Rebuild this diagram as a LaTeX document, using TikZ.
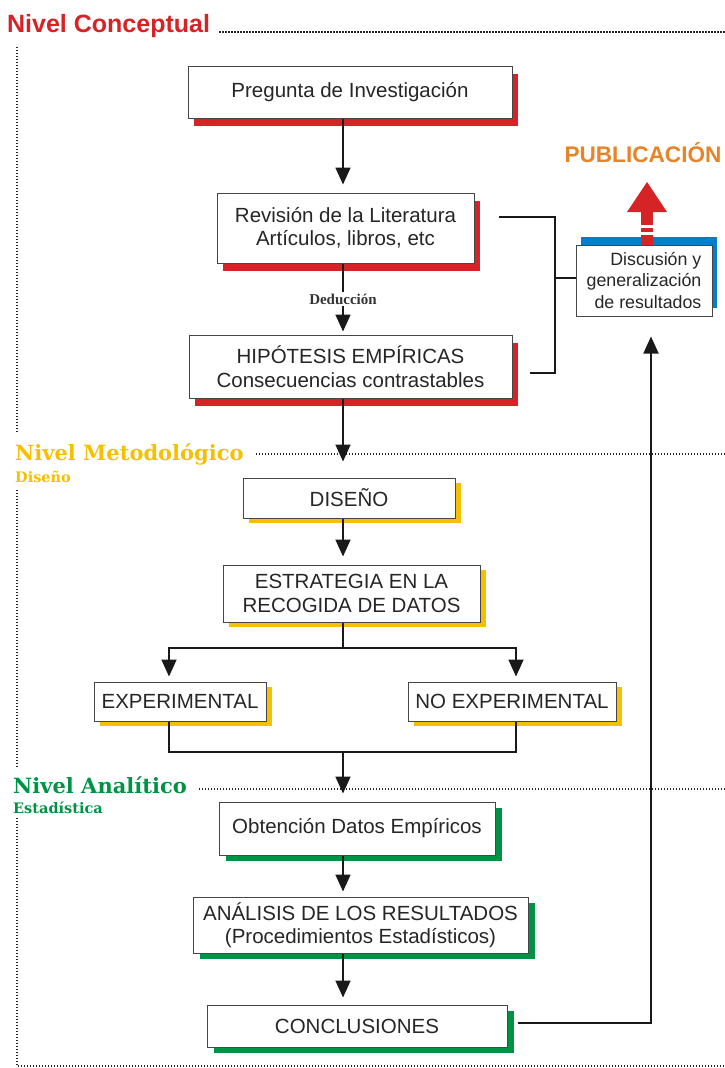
\documentclass[tikz,border=0pt]{standalone}
\usepackage{fontspec}
\setmainfont{Liberation Sans}
\newfontfamily\slabfont{DejaVu Serif}
\newfontfamily\romfont{Liberation Serif}
\usetikzlibrary{arrows.meta,shadows}
\definecolor{concred}{RGB}{214,35,38}
\definecolor{metoyel}{RGB}{244,192,0}
\definecolor{anagreen}{RGB}{0,146,69}
\definecolor{discblue}{RGB}{0,128,200}
\definecolor{puborange}{RGB}{232,132,40}
\definecolor{edgegray}{RGB}{70,70,70}
\begin{document}
\begin{tikzpicture}[x=1pt,y=-1pt,box/.style={draw=edgegray,line width=1pt,fill=white,text=black!85,align=center,inner sep=0pt,font=\fontsize{20.5}{23.5}\selectfont},boxR/.style={box,drop shadow={shadow xshift=6pt,shadow yshift=-8pt,fill=concred,opacity=1}},boxY/.style={box,drop shadow={shadow xshift=6pt,shadow yshift=-5pt,fill=metoyel,opacity=1}},boxG/.style={box,drop shadow={shadow xshift=7pt,shadow yshift=-6pt,fill=anagreen,opacity=1}},boxB/.style={box,drop shadow={shadow xshift=5pt,shadow yshift=8pt,fill=discblue,opacity=1}},flow/.style={line width=1.8pt,black!90},flowA/.style={flow,-{Triangle[length=17pt,width=15pt]},shorten >=8pt},dotline/.style={line width=1.8pt,dash pattern=on 1.3pt off 1.7pt,black!85},lvl/.style={anchor=base west,inner sep=0pt}]
\useasboundingbox (0,0) rectangle (725,1068);
\coordinate (col) at (343,0);
\coordinate (R) at (725,0);

\node[lvl,text=concred,font=\bfseries\fontsize{25}{25}\selectfont] (lvlC) at (7,32) {Nivel Conceptual};
\node[lvl,text=metoyel,font=\slabfont\bfseries\fontsize{21}{21}\selectfont] (lvlM) at (15,460) {Nivel Metodológico};
\node[lvl,text=metoyel,font=\slabfont\bfseries\fontsize{14.5}{14.5}\selectfont] (subM) at (15,482) {Diseño};
\node[lvl,text=anagreen,font=\slabfont\bfseries\fontsize{21}{21}\selectfont] (lvlA) at (13,793) {Nivel Analítico};
\node[lvl,text=anagreen,font=\slabfont\bfseries\fontsize{14.5}{14.5}\selectfont] (subA) at (13,813) {Estadística};

\draw[dotline] ([xshift=9pt]lvlC.base east) -- (lvlC.base east -| R);
\draw[dotline] ([xshift=12pt,yshift=6pt]lvlM.base east) -- ([yshift=6pt]lvlM.base east -| R);
\draw[dotline] ([xshift=12pt,yshift=4pt]lvlA.base east) -- ([yshift=4pt]lvlA.base east -| R);
\draw[dotline] (17,47) -- (17,432);
\draw[dotline] (17,490) -- (17,768);
\draw[dotline] (17,818) -- (17,1066) -- (725,1066);

\node[boxR,minimum width=324pt,minimum height=52pt] (preg) at (350,92) {Pregunta de Investigación};
\node[boxR,minimum width=257pt,minimum height=70pt] (rev) at (345.5,228) {Revisión de la Literatura\\Artículos, libros, etc};
\node[boxR,minimum width=323pt,minimum height=63pt] (hip) at (350.5,366.5) {HIPÓTESIS EMPÍRICAS\\Consecuencias contrastables};
\node[boxB,minimum width=136pt,minimum height=71pt,align=right,font=\fontsize{17.8}{21.5}\selectfont] (disc) at (644,280.5) {Discusión y\\generalización\\de resultados};
\node[text=puborange,font=\bfseries\fontsize{22.6}{22.6}\selectfont] (pub) at (643,153) {PUBLICACIÓN};

\node[boxY,minimum width=212pt,minimum height=40pt] (dise) at (349,498) {DISEÑO};
\node[boxY,minimum width=257pt,minimum height=57pt] (estr) at (351.5,593.5) {ESTRATEGIA EN LA\\RECOGIDA DE DATOS};
\node[boxY,minimum width=172pt,minimum height=39pt] (exp) at (180,701.5) {EXPERIMENTAL};
\node[boxY,minimum width=208pt,minimum height=39pt] (noexp) at (512,701.5) {NO EXPERIMENTAL};

\node[boxG,minimum width=276pt,minimum height=53pt] (obt) at (357,828.5) {Obtención Datos Empíricos};
\node[boxG,minimum width=335pt,minimum height=56pt] (anal) at (360.5,925) {ANÁLISIS DE LOS RESULTADOS\\(Procedimientos Estadísticos)};
\node[boxG,minimum width=300pt,minimum height=42pt] (conc) at (357,1026) {CONCLUSIONES};

\draw[flowA] (preg.south -| col) -- (rev.north -| col);
\draw[flowA,shorten >=3pt] (rev.south -| col) -- node[fill=white,inner sep=2pt,text=black!80,font=\romfont\bfseries\fontsize{15}{15}\selectfont] (ded) {Deducción} (hip.north -| col);
\draw[flowA,shorten >=16pt] (hip.south -| col) -- (dise.north -| col);
\draw[flowA] (dise.south -| col) -- (estr.north -| col);

\coordinate (fork) at (343,648);
\coordinate (join) at (343,752);
\draw[flow] (estr.south -| col) -- (fork);
\draw[flowA,shorten >=5pt] (fork) -| ([xshift=-11pt]exp.north);
\draw[flowA,shorten >=5pt] (fork) -| ([xshift=4pt]noexp.north);
\draw[flow] ([xshift=-11pt]exp.south) |- (join) -| ([xshift=4pt]noexp.south);
\draw[flowA] (join) -- (obt.north -| col);
\draw[flowA,shorten >=5pt] (obt.south -| col) -- (anal.north -| col);
\draw[flowA,shorten >=7pt] (anal.south -| col) -- (conc.north -| col);

\draw[flowA,shorten <=10pt,shorten >=20pt] ([yshift=3pt]conc.east) -| ([xshift=7pt]disc.south);
\coordinate (brJ) at (555,278);
\draw[flow] ([xshift=24pt,yshift=11pt]rev.east) -| (brJ) |- ([xshift=17pt,yshift=-6.5pt]hip.east);
\draw[flow] (brJ) -- (brJ -| disc.west);

\coordinate (hb) at (647,212);
\fill[concred] ([xshift=-20pt]hb) -- ([xshift=20pt]hb) -- ([yshift=30pt]hb) -- cycle;
\foreach \a/\b in {0/13,16/20,23/33}
  \fill[concred] ([xshift=-6pt,yshift=-\a pt]hb) rectangle ([xshift=6pt,yshift=-\b pt]hb);
\end{tikzpicture}
\end{document}
